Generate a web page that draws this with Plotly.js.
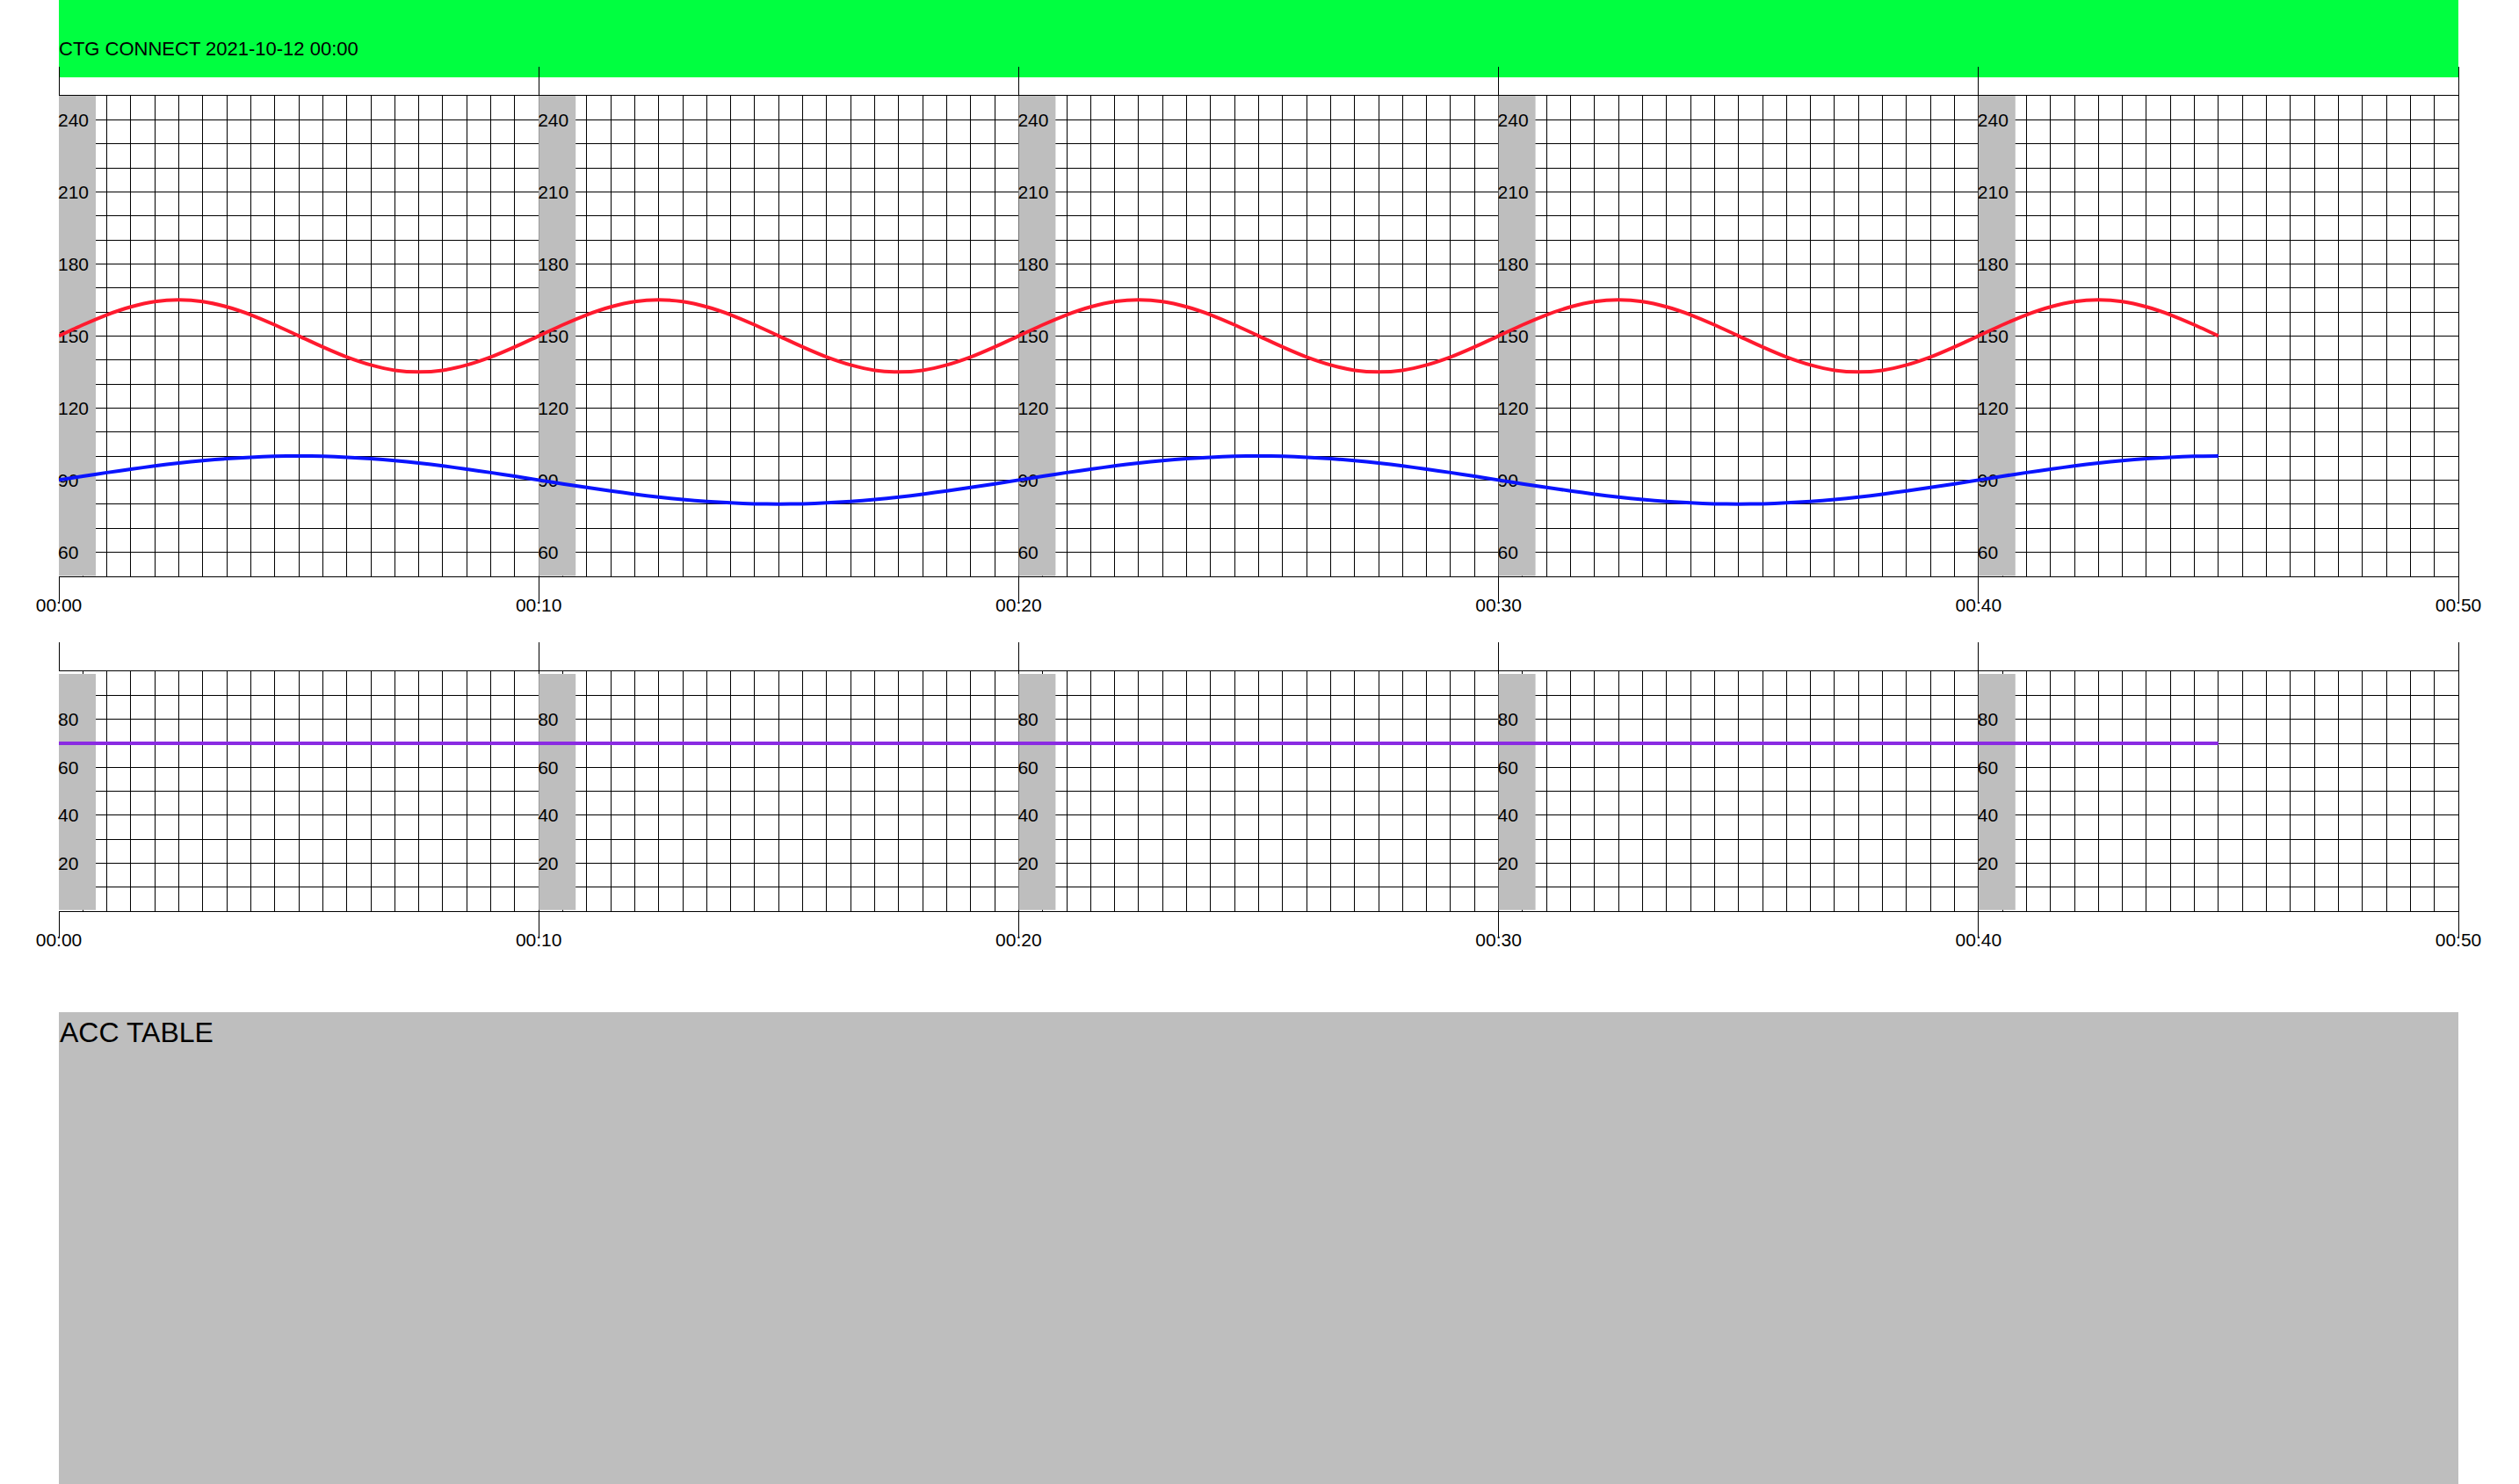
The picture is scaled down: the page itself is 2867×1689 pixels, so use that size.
<!DOCTYPE html>
<html><head><meta charset="utf-8">
<script src="https://cdn.plot.ly/plotly-3.0.1.min.js"></script>
<style>html,body{margin:0;padding:0;background:#fff;} #chart{width:2867px;height:1689px;}</style>
</head><body><div id="chart"></div>
<script>
// ---------------- DATA ----------------
const titleText = 'CTG CONNECT 2021-10-12 00:00';
const tableTitle = 'ACC TABLE';
const recordStart = '2021-10-12 00:00:00';
const recordEnd = '2021-10-12 00:50:00';
const blockStarts = ['2021-10-12 00:00:00','2021-10-12 00:10:00','2021-10-12 00:20:00','2021-10-12 00:30:00','2021-10-12 00:40:00'];
const hrSampleSeconds = 30;
// fetal heart rate (red), one value per 30 s, 00:00 .. 00:45
const fhr = [150,154.6,158.8,162.1,164.3,165,164.3,162.1,158.8,154.6,150,145.4,141.2,137.9,135.7,135,135.7,137.9,141.2,145.4,
             150,154.6,158.8,162.1,164.3,165,164.3,162.1,158.8,154.6,150,145.4,141.2,137.9,135.7,135,135.7,137.9,141.2,145.4,
             150,154.6,158.8,162.1,164.3,165,164.3,162.1,158.8,154.6,150,145.4,141.2,137.9,135.7,135,135.7,137.9,141.2,145.4,
             150,154.6,158.8,162.1,164.3,165,164.3,162.1,158.8,154.6,150,145.4,141.2,137.9,135.7,135,135.7,137.9,141.2,145.4,
             150,154.6,158.8,162.1,164.3,165,164.3,162.1,158.8,154.6,150];
// maternal heart rate (blue), one value per 30 s, 00:00 .. 00:45
const mhr = [90,91.6,93.1,94.5,95.9,97.1,98.1,98.9,99.5,99.9,100,99.9,99.5,98.9,98.1,97.1,95.9,94.5,93.1,91.6,
             90,88.4,86.9,85.5,84.1,82.9,81.9,81.1,80.5,80.1,80,80.1,80.5,81.1,81.9,82.9,84.1,85.5,86.9,88.4,
             90,91.6,93.1,94.5,95.9,97.1,98.1,98.9,99.5,99.9,100,99.9,99.5,98.9,98.1,97.1,95.9,94.5,93.1,91.6,
             90,88.4,86.9,85.5,84.1,82.9,81.9,81.1,80.5,80.1,80,80.1,80.5,81.1,81.9,82.9,84.1,85.5,86.9,88.4,
             90,91.6,93.1,94.5,95.9,97.1,98.1,98.9,99.5,99.9,100];
const tocoSampleSeconds = 300;
// uterine activity (purple), one value per 5 min, 00:00 .. 00:45
const toco = [70,70,70,70,70,70,70,70,70,70];
const hrRange = [50,250];
const hrTicks = [60,90,120,150,180,210,240];
const tocoRange = [0,100];
const tocoTicks = [20,40,60,80];

// ---------------- BUILD ----------------
const W = 2867, H = 1689;
const FONT = 'Liberation Sans, Arial, Helvetica, sans-serif';
const startMs = Date.parse(recordStart.replace(' ', 'T') + 'Z');
const times = (vals, step) => vals.map((_, i) => startMs + i * step * 1000);
const yDom = (topPx, botPx) => [(H - botPx) / H, (H - topPx) / H];

const traces = [
  {type:'scatter', mode:'lines', x: times(fhr, hrSampleSeconds), y: fhr, xaxis:'x', yaxis:'y',
   line:{color:'#FF1A2E', width:4, shape:'spline', smoothing:0.6}, hoverinfo:'skip', showlegend:false},
  {type:'scatter', mode:'lines', x: times(mhr, hrSampleSeconds), y: mhr, xaxis:'x', yaxis:'y',
   line:{color:'#0A14FF', width:4, shape:'spline', smoothing:0.6}, hoverinfo:'skip', showlegend:false},
  {type:'scatter', mode:'lines', x: times(toco, tocoSampleSeconds), y: toco, xaxis:'x2', yaxis:'y6',
   line:{color:'#8A2BE2', width:4}, hoverinfo:'skip', showlegend:false}
];
// empty traces binding the helper axes
['y11','y2','y3','y4','y5'].forEach(y => traces.push({type:'scatter', x:[], y:[], xaxis:'x', yaxis:y, showlegend:false, hoverinfo:'skip'}));
['y12','y7','y8','y9','y10'].forEach(y => traces.push({type:'scatter', x:[], y:[], xaxis:'x2', yaxis:y, showlegend:false, hoverinfo:'skip'}));
traces.push({type:'scatter', x:[], y:[], xaxis:'x3', yaxis:'y', showlegend:false, hoverinfo:'skip'});
traces.push({type:'scatter', x:[], y:[], xaxis:'x4', yaxis:'y6', showlegend:false, hoverinfo:'skip'});

const tickFont = {family: FONT, size: 21, color: '#000'};
const xBase = {
  type:'date', range:[recordStart, recordEnd], tick0: recordStart, dtick: 600000, tickformat:'%H:%M',
  showgrid:true, gridcolor:'#000', gridwidth:1, zeroline:false,
  showline:true, mirror:true, linecolor:'#000', linewidth:1,
  ticks:'outside', ticklen:28, tickwidth:1, tickcolor:'#000', tickfont: tickFont, ticklabelstandoff:-14,
  minor:{dtick:30000, tick0: recordStart, showgrid:true, gridcolor:'#000', gridwidth:1, ticks:''},
  fixedrange:true, domain:[0,1]
};
const xTop = {
  type:'date', range:[recordStart, recordEnd], tick0: recordStart, dtick: 600000, side:'top',
  showgrid:false, zeroline:false, showline:false, showticklabels:false,
  ticks:'outside', ticklen:32, tickwidth:1, tickcolor:'#000', fixedrange:true
};
function yMain(dom, range, ticks) {
  return {domain: dom, range: range, side:'right', tickmode:'array', tickvals: ticks, ticks:'', showticklabels:false,
    showgrid:true, gridcolor:'#000', gridwidth:1, zeroline:false,
    showline:true, mirror:false, linecolor:'#000', linewidth:1,
    minor:{tick0: range[0], dtick:10, showgrid:true, gridcolor:'#000', gridwidth:1, ticks:''},
    layer:'below traces', fixedrange:true};
}
function yOver(over, k, range, ticks) {
  return {overlaying: over, anchor:'free', position: k / 5, side:'right', range: range, tickmode:'array', tickvals: ticks,
    ticks:'', tickfont: tickFont, showgrid:false, zeroline:false, showline:false, ticklabelstandoff:-2,
    layer:'below traces', fixedrange:true};
}

const topDom = yDom(109, 655.7);
const botDom = yDom(764.3, 1037);

const layout = {
  width: W, height: H, margin:{l:67, r:69, t:0, b:0, pad:0},
  paper_bgcolor:'#fff', plot_bgcolor:'rgba(0,0,0,0)', showlegend:false,
  font:{family: FONT, color:'#000'},
  title:{text: titleText, font:{family: FONT, size:22, color:'#000'}, x:0, xref:'paper', xanchor:'left',
         y: 1 - 55 / H, yref:'container', yanchor:'middle'},
  xaxis: Object.assign({}, xBase, {anchor:'y'}),
  xaxis2: Object.assign({}, xBase, {anchor:'y6'}),
  xaxis3: Object.assign({}, xTop, {overlaying:'x', anchor:'y'}),
  xaxis4: Object.assign({}, xTop, {overlaying:'x2', anchor:'y6'}),
  yaxis: Object.assign(yMain(topDom, hrRange, hrTicks), {anchor:'x'}),
  yaxis6: Object.assign(yMain(botDom, tocoRange, tocoTicks), {anchor:'x2'}),
  shapes: [
    {type:'rect', xref:'paper', yref:'paper', x0:0, x1:1, y0:(H - 88) / H, y1:1, fillcolor:'#00FF40', line:{width:0}, layer:'below'},
    {type:'rect', xref:'paper', yref:'paper', x0:0, x1:1, y0:-0.01, y1:(H - 1152) / H, fillcolor:'#BEBEBE', line:{width:0}, layer:'below'}
  ],
  annotations: [
    {text: tableTitle, xref:'paper', yref:'paper', x:0, y:(H - 1152) / H, xanchor:'left', yanchor:'top', yshift:-4,
     showarrow:false, font:{family: FONT, size:32, color:'#000'}, borderpad:0}
  ]
};
[11,2,3,4,5].forEach((n, i) => { layout['yaxis' + n] = yOver('y', i, hrRange, hrTicks); });
[12,7,8,9,10].forEach((n, i) => { layout['yaxis' + n] = yOver('y6', i, tocoRange, tocoTicks); });

// grey bands at the start of each 10-minute block
blockStarts.forEach(t => {
  layout.shapes.push({type:'rect', xref:'x', yref:'y', xsizemode:'pixel', xanchor: t, x0:0, x1:42,
    y0: hrRange[0], y1: hrRange[1], fillcolor:'#BEBEBE', line:{width:0}, layer:'between'});
  layout.shapes.push({type:'rect', xref:'x2', yref:'y6', xsizemode:'pixel', xanchor: t, x0:0, x1:42,
    y0: tocoRange[0] + 0.5, y1: tocoRange[1] - 1, fillcolor:'#BEBEBE', line:{width:0}, layer:'between'});
});

Plotly.newPlot('chart', traces, layout, {staticPlot:true, displayModeBar:false});
</script></body></html>
